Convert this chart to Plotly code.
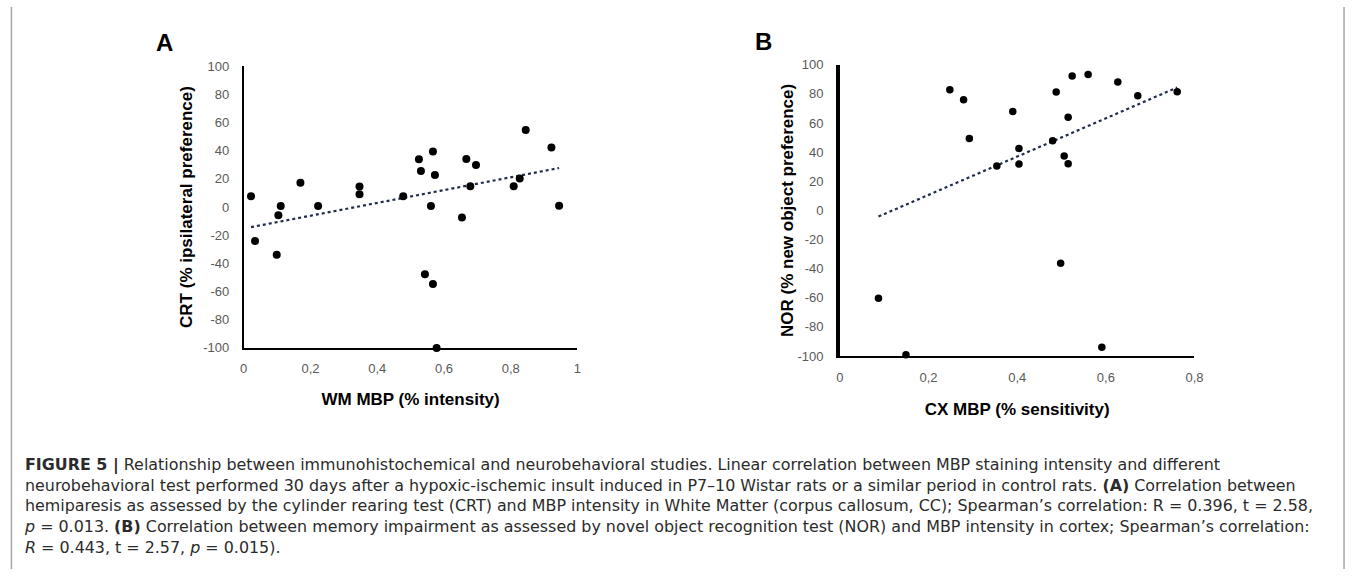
import numpy as np
import plotly.graph_objects as go

# ---------------- data ----------------
wm_mbp = [0.022, 0.034, 0.099, 0.104, 0.111, 0.170, 0.223, 0.347, 0.347, 0.478,
          0.525, 0.531, 0.543, 0.561, 0.567, 0.567, 0.573, 0.578, 0.654, 0.667,
          0.679, 0.696, 0.785, 0.809, 0.827, 0.845, 0.922, 0.945]
crt = [7.6, -24.2, -33.8, -5.8, 0.7, 17.3, 0.7, 14.5, 9.0, 7.6,
       33.9, 25.6, -47.7, 0.7, 39.4, -54.6, 22.8, -100.0, -7.4, 34.1,
       14.8, 29.9, 100.2, 14.8, 20.3, 54.6, 42.2, 0.9]

cx_mbp = [0.087, 0.149, 0.248, 0.279, 0.279, 0.292, 0.354, 0.390, 0.404, 0.404,
          0.480, 0.488, 0.498, 0.506, 0.515, 0.515, 0.524, 0.560, 0.591, 0.627,
          0.649, 0.672, 0.761]
nor = [-60.3, -99.1, 82.8, 101.5, 75.9, 49.4, 30.4, 67.9, 42.5, 31.8,
       47.8, 81.3, -36.3, 37.3, 63.9, 32.0, 92.2, 93.3, -94.0, 88.2,
       101.5, 78.8, 81.5]

a_xticks = [0, 0.2, 0.4, 0.6, 0.8, 1.0]
a_xticktext = ["0", "0,2", "0,4", "0,6", "0,8", "1"]
b_xticks = [0, 0.2, 0.4, 0.6, 0.8]
b_xticktext = ["0", "0,2", "0,4", "0,6", "0,8"]
yticks = [100, 80, 60, 40, 20, 0, -20, -40, -60, -80, -100]
yticktext = ["100", "80", "60", "40", "20", "0", "-20", "-40", "-60", "-80", "-100"]

caption_lines = [
    "<b>FIGURE 5 |</b> Relationship between immunohistochemical and neurobehavioral studies. Linear correlation between MBP staining intensity and different",
    "neurobehavioral test performed 30 days after a hypoxic-ischemic insult induced in P7\u201310 Wistar rats or a similar period in control rats. <b>(A)</b> Correlation between",
    "hemiparesis as assessed by the cylinder rearing test (CRT) and MBP intensity in White Matter (corpus callosum, CC); Spearman\u2019s correlation: R = 0.396, t = 2.58,",
    "<i>p</i> = 0.013. <b>(B)</b> Correlation between memory impairment as assessed by novel object recognition test (NOR) and MBP intensity in cortex; Spearman\u2019s correlation:",
    "<i>R</i> = 0.443, t = 2.57, <i>p</i> = 0.015).",
]

# ---------------- figure ----------------
W, H = 1357, 577
FONT = "Liberation Sans, Arial, sans-serif"
CAP_FONT = "DejaVu Sans, Liberation Sans, Arial, sans-serif"


def px_x(v):
    return v / W


def px_y(v):
    return 1 - v / H


def trend(x, y):
    k, b = np.polyfit(x, y, 1)
    xs = np.array([min(x), max(x)])
    return xs, k * xs + b


fig = go.Figure()

ta_x, ta_y = trend(wm_mbp, crt)
tb_x, tb_y = trend(cx_mbp, nor)

fig.add_trace(go.Scatter(x=ta_x, y=ta_y, mode="lines", xaxis="x", yaxis="y",
                         line=dict(color="#1f2d4a", width=2.2, dash="dot"),
                         showlegend=False, hoverinfo="skip"))
fig.add_trace(go.Scatter(x=wm_mbp, y=crt, mode="markers", xaxis="x", yaxis="y",
                         marker=dict(color="black", size=8), cliponaxis=False,
                         showlegend=False))
fig.add_trace(go.Scatter(x=tb_x, y=tb_y, mode="lines", xaxis="x2", yaxis="y2",
                         line=dict(color="#1f2d4a", width=2.2, dash="dot"),
                         showlegend=False, hoverinfo="skip"))
fig.add_trace(go.Scatter(x=cx_mbp, y=nor, mode="markers", xaxis="x2", yaxis="y2",
                         marker=dict(color="black", size=7.5), cliponaxis=False,
                         showlegend=False))

tickfont = dict(family=FONT, size=13, color="#595959")
titlefont = dict(family=FONT, size=17, color="black")

fig.update_layout(
    width=W, height=H,
    margin=dict(l=0, r=0, t=0, b=0),
    paper_bgcolor="white", plot_bgcolor="white",
    font=dict(family=FONT),
    xaxis=dict(domain=[px_x(242), px_x(579)], range=[0, 1], anchor="y",
               tickvals=a_xticks, ticktext=a_xticktext, tickfont=tickfont,
               showgrid=False, zeroline=False, showline=True, linecolor="black",
               linewidth=1.8, ticks="", ticklabelstandoff=8,
               title=dict(text="<b>WM MBP (% intensity)</b>", font=titlefont, standoff=18)),
    yaxis=dict(domain=[px_y(350), px_y(60.7)], range=[-100, 100], anchor="x",
               tickvals=yticks, ticktext=yticktext, tickfont=tickfont,
               showgrid=False, zeroline=False, showline=True, linecolor="black",
               linewidth=1.8, ticks="", ticklabelstandoff=10,
               title=dict(text="<b>CRT (% ipsilateral preference)</b>", font=titlefont, standoff=6)),
    xaxis2=dict(domain=[px_x(844), px_x(1202)], range=[0, 0.8], anchor="y2",
                tickvals=b_xticks, ticktext=b_xticktext, tickfont=tickfont,
                showgrid=False, zeroline=False, showline=True, linecolor="black",
                linewidth=2, ticks="", ticklabelstandoff=8,
                title=dict(text="<b>CX MBP (% sensitivity)</b>", font=titlefont, standoff=20)),
    yaxis2=dict(domain=[px_y(358.3), px_y(59.3)], range=[-100, 100], anchor="x2",
                tickvals=yticks, ticktext=yticktext, tickfont=tickfont,
                showgrid=False, zeroline=False, showline=True, linecolor="black",
                linewidth=3.5, ticks="", ticklabelstandoff=10,
                title=dict(text="<b>NOR (% new object preference)</b>", font=titlefont, standoff=1)),
)

# panel letters
fig.add_annotation(x=px_x(162), y=px_y(36), xref="paper", yref="paper",
                   text="<b>A</b>", showarrow=False, xanchor="center", yanchor="middle",
                   font=dict(family=FONT, size=24, color="black"))
fig.add_annotation(x=px_x(767), y=px_y(35), xref="paper", yref="paper",
                   text="<b>B</b>", showarrow=False, xanchor="center", yanchor="middle",
                   font=dict(family=FONT, size=24, color="black"))

# caption block
fig.add_annotation(x=px_x(18), y=px_y(512), xref="paper", yref="paper",
                   text="<br>".join(caption_lines), showarrow=False,
                   xanchor="left", yanchor="middle", align="left",
                   font=dict(family=CAP_FONT, size=15.9, color="#2b2b2b"))

# frame lines
fig.add_shape(type="line", xref="paper", yref="paper",
              x0=px_x(7.5), x1=px_x(7.5), y0=0, y1=1,
              line=dict(color="#a6a6a6", width=1.5))
fig.add_shape(type="line", xref="paper", yref="paper",
              x0=px_x(1353), x1=px_x(1353), y0=0, y1=1,
              line=dict(color="#a6a6a6", width=1.5))

fig.write_html("out.html", config={"displayModeBar": False},
               post_script="document.body.style.margin='0px';")
